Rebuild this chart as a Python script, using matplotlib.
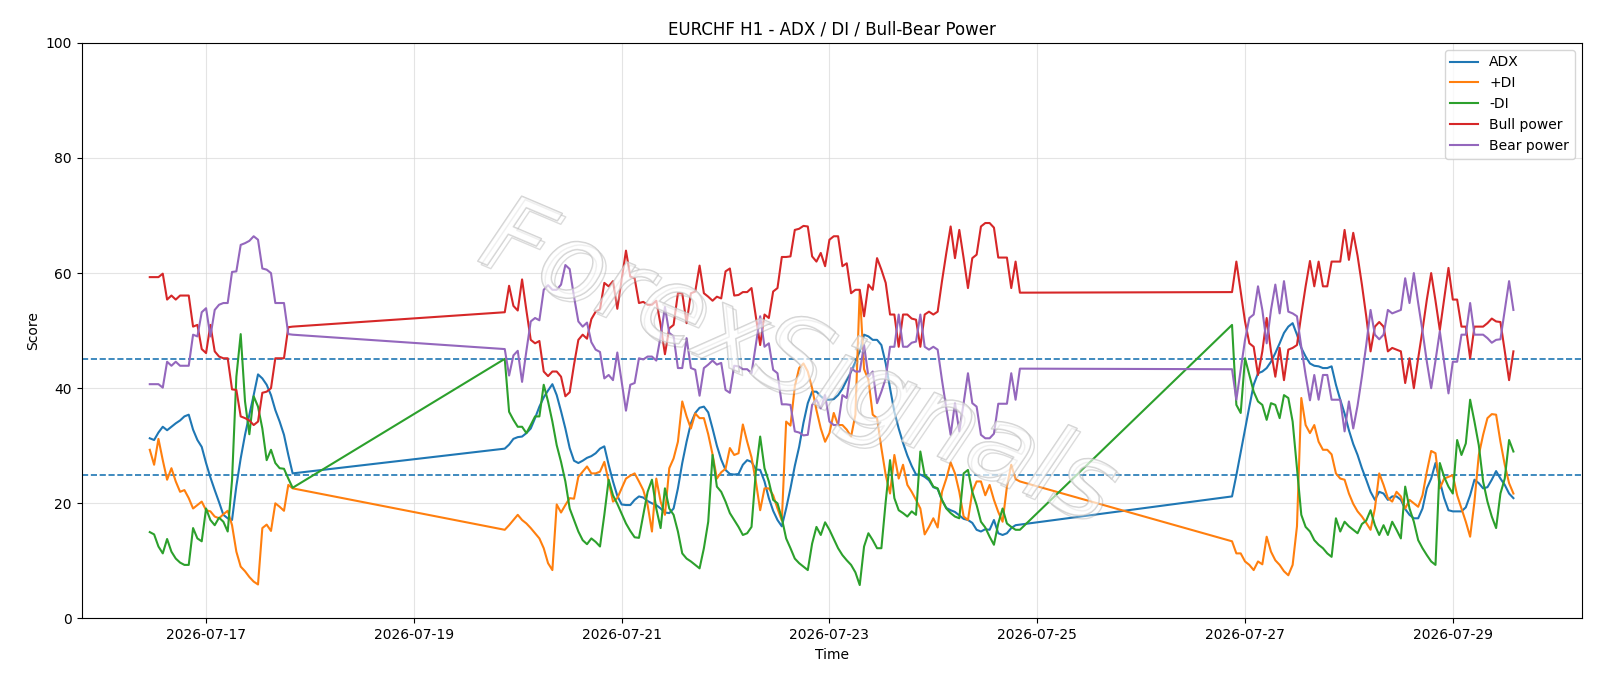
import matplotlib
matplotlib.use("Agg")
import matplotlib.pyplot as plt
import matplotlib.dates as mdates
import matplotlib.patheffects as pe
import pandas as pd

# ---- time axis: three hourly trading segments (gaps are weekends) ----
segment_starts = ["2026-07-16 11:00", "2026-07-19 21:00", "2026-07-26 21:00"]
segment_lengths = [34, 120, 66]

# ---- series values (segment 1 | segment 2 | segment 3) ----
adx = [
    31.3, 31.0, 32.3, 33.3, 32.7, 33.3, 33.9, 34.4, 35.1, 35.4, 32.8, 31.0, 29.8, 27.0, 24.5, 22.3, 20.2,
    18.0, 17.4, 17.1, 23.0, 27.8, 31.9, 35.4, 38.8, 42.4, 41.7, 40.6, 38.8, 36.2, 34.2, 31.9, 28.4, 25.2,
    # segment 2
    29.5, 30.2, 31.2, 31.5, 31.6, 32.2, 33.0, 34.8, 36.8, 38.4,
    39.6, 40.7, 38.8, 36.0, 33.0, 29.6, 27.4, 27.0, 27.4, 27.9,
    28.2, 28.7, 29.5, 29.9, 26.7, 23.8, 21.3, 19.8, 19.7, 19.7,
    20.6, 21.2, 21.0, 20.4, 20.0, 19.7, 19.1, 18.4, 18.3, 19.1,
    22.6, 27.0, 30.7, 33.9, 35.7, 36.6, 36.8, 35.8, 33.0, 30.0,
    27.6, 25.8, 25.1, 25.0, 25.1, 26.7, 27.5, 27.2, 25.9, 25.8,
    23.8, 20.9, 18.7, 17.1, 16.0, 19.1, 22.6, 26.5, 29.8, 34.0,
    37.4, 39.4, 39.4, 38.6, 38.0, 38.0, 38.1, 38.8, 39.9, 41.4,
    42.9, 44.6, 46.4, 49.3, 49.0, 48.4, 48.4, 47.5, 44.3, 40.0,
    35.9, 33.0, 30.5, 28.3, 26.5, 25.0, 25.0, 24.6, 24.0, 22.8,
    22.5, 20.5, 19.2, 18.8, 18.5, 17.9, 17.3, 17.1, 16.6, 15.4,
    15.1, 15.5, 15.4, 17.1, 14.8, 14.5, 14.8, 15.7, 16.2, 16.3,
    # segment 3
    21.2, 24.9, 28.9, 32.8, 36.8, 40.6, 42.6, 42.9, 43.5, 44.6,
    46.1, 47.8, 49.6, 50.7, 51.3, 49.3, 47.0, 45.5, 44.3, 43.9,
    43.8, 43.5, 43.5, 43.8, 40.6, 38.0, 35.6, 32.7, 30.3, 28.4,
    26.1, 24.1, 22.0, 20.6, 22.0, 21.7, 20.6, 21.2, 21.2, 20.6,
    19.0, 18.0, 17.4, 17.4, 19.1, 22.6, 24.3, 27.0, 23.8, 20.9,
    18.8, 18.6, 18.6, 18.6, 19.3, 21.4, 24.1, 23.5, 22.6, 22.8,
    24.1, 25.6, 24.3, 23.2, 21.7, 20.9,
]

plus_di = [
    29.3, 26.7, 31.2, 27.5, 24.1, 26.1, 23.8, 22.0, 22.3, 20.9, 19.1, 19.7, 20.3, 18.8, 18.6, 17.7, 17.4,
    18.1, 18.7, 16.2, 11.6, 9.0, 8.2, 7.2, 6.4, 5.9, 15.7, 16.3, 15.2, 20.0, 19.4, 18.7, 23.2, 22.6,
    # segment 2
    15.4, 16.2, 17.1, 18.0, 17.1, 16.5, 15.7, 14.8, 13.9, 12.2,
    9.6, 8.4, 19.8, 18.4, 19.7, 20.9, 20.8, 24.6, 25.5, 26.4,
    25.2, 25.2, 25.5, 27.2, 23.8, 20.3, 20.9, 22.6, 24.3, 24.8,
    25.2, 23.8, 22.3, 19.7, 15.1, 24.3, 20.3, 18.0, 26.1, 27.8,
    30.7, 37.7, 35.1, 33.0, 35.6, 34.8, 34.8, 32.0, 28.5, 24.3,
    25.4, 26.0, 29.6, 28.4, 28.7, 33.7, 30.7, 28.0, 23.8, 18.8,
    22.6, 22.6, 21.4, 19.1, 17.0, 34.2, 33.5, 40.3, 43.5, 44.3,
    42.9, 40.0, 36.2, 33.0, 30.7, 32.2, 35.7, 33.6, 33.6, 32.8,
    31.6, 35.4, 57.0, 43.3, 41.5, 35.4, 34.8, 29.6, 24.9, 21.7,
    28.4, 24.3, 26.7, 23.2, 22.0, 20.6, 19.1, 14.6, 15.9, 17.4,
    15.8, 22.0, 24.3, 27.1, 25.2, 22.0, 17.7, 17.1, 22.0, 23.8,
    23.8, 21.4, 23.2, 20.6, 18.5, 16.8, 22.9, 26.7, 24.2, 23.8,
    # segment 3
    13.4, 11.3, 11.3, 9.9, 9.3, 8.4, 9.9, 9.4, 14.2, 11.6,
    10.1, 9.3, 8.2, 7.5, 9.3, 16.0, 38.3, 33.6, 32.2, 33.6,
    30.7, 29.3, 29.3, 28.5, 25.2, 24.3, 24.1, 21.7, 19.9, 18.6,
    17.7, 16.6, 15.4, 19.1, 25.2, 23.2, 20.9, 20.3, 22.0, 21.2,
    19.1, 20.6, 20.0, 19.4, 21.4, 25.5, 29.1, 28.7, 22.6, 24.3,
    24.6, 24.9, 21.4, 19.1, 16.8, 14.2, 20.3, 28.4, 31.9, 34.8,
    35.5, 35.4, 30.7, 26.7, 23.5, 21.7,
]

minus_di = [
    15.0, 14.6, 12.5, 11.3, 13.8, 11.6, 10.4, 9.7, 9.3, 9.3, 15.7, 13.9, 13.4, 19.1, 17.1, 16.2, 17.5,
    16.8, 15.1, 24.0, 42.0, 49.4, 37.7, 32.0, 38.6, 36.8, 33.0, 27.5, 29.3, 27.0, 26.1, 26.0, 24.3, 22.7,
    # segment 2
    45.1, 35.9, 34.5, 33.3, 33.3, 32.2, 33.6, 35.1, 35.1, 40.6,
    37.7, 34.2, 30.1, 27.2, 23.8, 19.1, 17.1, 15.1, 13.6, 12.9,
    13.9, 13.3, 12.5, 18.0, 24.1, 21.4, 19.9, 18.2, 16.5, 15.2,
    14.1, 14.0, 18.0, 22.0, 24.1, 19.1, 15.7, 22.6, 19.1, 18.0,
    15.1, 11.3, 10.4, 9.9, 9.3, 8.7, 12.2, 16.8, 28.4, 22.9,
    22.0, 20.3, 18.3, 17.1, 15.9, 14.5, 14.8, 15.9, 25.5, 31.6,
    26.1, 23.8, 20.6, 20.0, 17.4, 13.9, 12.2, 10.4, 9.6, 9.0,
    8.4, 13.0, 15.9, 14.5, 16.7, 15.4, 13.8, 12.2, 11.0, 10.1,
    9.3, 8.0, 5.8, 12.5, 14.8, 13.6, 12.2, 12.2, 20.3, 27.5,
    20.9, 18.8, 18.3, 17.7, 18.6, 18.0, 29.0, 24.9, 24.3, 22.9,
    22.6, 20.6, 19.1, 18.3, 17.7, 17.4, 25.2, 25.8, 22.0, 19.7,
    16.8, 15.8, 14.2, 12.8, 16.5, 19.1, 16.5, 15.9, 15.4, 15.4,
    # segment 3
    51.0, 37.1, 35.7, 45.2, 42.3, 39.4, 37.7, 37.1, 34.5, 37.4,
    37.1, 34.8, 38.8, 38.3, 34.2, 26.0, 18.0, 15.9, 15.1, 13.6,
    12.8, 12.2, 11.3, 10.7, 17.4, 15.1, 16.8, 16.0, 15.4, 14.8,
    16.4, 17.0, 18.8, 16.2, 14.5, 16.2, 14.5, 16.8, 15.4, 13.9,
    22.9, 19.1, 16.8, 13.6, 12.2, 11.0, 9.9, 9.3, 27.0, 24.6,
    22.9, 21.7, 31.0, 28.4, 30.4, 38.0, 34.2, 30.1, 23.8, 20.3,
    17.7, 15.7, 21.7, 24.3, 31.0, 29.0,
]

bull_power = [
    59.3, 59.3, 59.3, 59.9, 55.4, 56.1, 55.4, 56.1, 56.1, 56.1, 50.7, 51.0, 46.8, 46.1, 51.0, 46.4, 45.5,
    45.2, 45.2, 39.8, 39.7, 35.1, 34.8, 34.4, 33.6, 34.2, 39.2, 39.4, 40.0, 45.2, 45.2, 45.2, 50.6, 50.7,
    # segment 2
    53.2, 57.8, 54.3, 53.5, 58.9, 53.5, 48.4, 47.8, 48.2, 42.9,
    42.1, 42.9, 42.9, 42.0, 38.6, 39.3, 44.1, 48.4, 49.3, 48.6,
    52.0, 53.3, 53.7, 58.3, 57.7, 58.6, 53.8, 58.8, 63.9, 59.4,
    59.1, 54.8, 55.0, 54.5, 54.5, 55.2, 51.0, 45.9, 50.4, 51.0,
    56.5, 56.5, 51.3, 56.5, 56.8, 61.3, 56.5, 55.9, 55.2, 55.9,
    55.6, 60.3, 60.8, 56.1, 56.2, 56.7, 56.7, 57.4, 52.5, 47.5,
    52.8, 52.2, 56.8, 57.4, 62.8, 62.8, 62.9, 67.5, 67.7, 68.2,
    68.1, 62.9, 62.0, 63.5, 61.2, 65.8, 66.4, 66.4, 61.2, 61.7,
    56.5, 57.1, 57.1, 52.5, 58.0, 57.1, 62.6, 60.6, 58.3, 52.8,
    52.8, 47.2, 52.8, 52.8, 52.1, 51.9, 47.2, 52.8, 53.3, 52.8,
    53.3, 58.6, 63.5, 68.1, 62.6, 67.5, 62.6, 57.4, 62.6, 63.2,
    68.1, 68.7, 68.7, 67.9, 62.7, 62.7, 62.7, 57.4, 62.0, 56.6,
    # segment 3
    56.7, 62.0, 56.8, 51.6, 47.8, 47.2, 42.3, 46.4, 52.2, 46.4,
    42.0, 47.0, 41.4, 46.7, 47.0, 47.5, 52.8, 57.7, 62.1, 57.7,
    62.0, 57.7, 57.7, 62.0, 62.0, 62.0, 67.5, 62.3, 67.0, 63.0,
    58.0, 52.5, 46.4, 50.7, 51.5, 50.7, 46.4, 47.0, 46.7, 46.4,
    40.9, 45.2, 40.0, 45.2, 50.1, 55.4, 60.0, 55.2, 50.1, 55.5,
    60.9, 55.4, 55.4, 50.7, 50.7, 45.2, 50.7, 50.7, 50.7, 51.3,
    52.1, 51.6, 51.5, 46.4, 41.4, 46.4,
]

bear_power = [
    40.7, 40.7, 40.7, 40.1, 44.6, 43.9, 44.6, 43.9, 43.9, 43.9, 49.3, 49.0, 53.2, 53.9, 49.0, 53.6, 54.5,
    54.8, 54.8, 60.2, 60.3, 64.9, 65.2, 65.6, 66.4, 65.8, 60.8, 60.6, 60.0, 54.8, 54.8, 54.8, 49.4, 49.3,
    # segment 2
    46.8, 42.2, 45.7, 46.5, 41.1, 46.5, 51.6, 52.2, 51.8, 57.1,
    57.9, 57.1, 57.1, 58.0, 61.4, 60.7, 55.9, 51.6, 50.7, 51.4,
    48.0, 46.7, 46.3, 41.7, 42.3, 41.4, 46.2, 41.2, 36.1, 40.6,
    40.9, 45.2, 45.0, 45.5, 45.5, 44.8, 49.0, 54.1, 49.6, 49.0,
    43.5, 43.5, 48.7, 43.5, 43.2, 38.7, 43.5, 44.1, 44.8, 44.1,
    44.4, 39.7, 39.2, 43.9, 43.8, 43.3, 43.3, 42.6, 47.5, 52.5,
    47.2, 47.8, 43.2, 42.6, 37.2, 37.2, 37.1, 32.5, 32.3, 31.8,
    31.9, 37.1, 38.0, 36.5, 38.8, 34.2, 33.6, 33.6, 38.8, 38.3,
    43.5, 42.9, 42.9, 47.5, 42.0, 42.9, 37.4, 39.4, 41.7, 47.2,
    47.2, 52.8, 47.2, 47.2, 47.9, 48.1, 52.8, 47.2, 46.7, 47.2,
    46.7, 41.4, 36.5, 31.9, 37.4, 32.5, 37.4, 42.6, 37.4, 36.8,
    31.9, 31.3, 31.3, 32.1, 37.3, 37.3, 37.3, 42.6, 38.0, 43.4,
    # segment 3
    43.3, 38.0, 43.2, 48.4, 52.2, 52.8, 57.7, 53.6, 47.8, 53.6,
    58.0, 53.0, 58.6, 53.3, 53.0, 52.5, 47.2, 42.3, 37.9, 42.3,
    38.0, 42.3, 42.3, 38.0, 38.0, 38.0, 32.5, 37.7, 33.0, 37.0,
    42.0, 47.5, 53.6, 49.3, 48.5, 49.3, 53.6, 53.0, 53.3, 53.6,
    59.1, 54.8, 60.0, 54.8, 49.9, 44.6, 40.0, 44.8, 49.9, 44.5,
    39.1, 44.6, 44.6, 49.3, 49.3, 54.8, 49.3, 49.3, 49.3, 48.7,
    47.9, 48.4, 48.5, 53.6, 58.6, 53.6,
]

levels = [25, 45]
tick_dates = ["2026-07-17", "2026-07-19", "2026-07-21", "2026-07-23",
              "2026-07-25", "2026-07-27", "2026-07-29"]
series = [("ADX", adx), ("+DI", plus_di), ("-DI", minus_di),
          ("Bull power", bull_power), ("Bear power", bear_power)]
watermark = "ForexSignals"

# ---- build time index ----
times = pd.DatetimeIndex([])
for start, n in zip(segment_starts, segment_lengths):
    times = times.append(pd.date_range(start, periods=n, freq="h"))

fig = plt.figure(figsize=(16, 6.86), dpi=100)
ax = fig.add_axes([0.051, 0.0985, 0.9375, 0.839])

colors = ["#1f77b4", "#ff7f0e", "#2ca02c", "#d62728", "#9467bd"]
for (label, vals), c in zip(series, colors):
    ax.plot(times, vals, color=c, linewidth=1.5, label=label, zorder=3)

for lv in levels:
    ax.axhline(lv, color="#1f77b4", linestyle="--", linewidth=1.2, zorder=2)

ax.set_ylim(0, 100)
ax.set_yticks([0, 20, 40, 60, 80, 100])
ax.set_xticks(pd.to_datetime(tick_dates))
ax.xaxis.set_major_formatter(mdates.DateFormatter("%Y-%m-%d"))
ax.grid(True, color="#d9d9d9", alpha=0.7, linewidth=0.8)
ax.set_axisbelow(True)

ax.set_title("EURCHF H1 - ADX / DI / Bull-Bear Power", fontsize=12)
ax.set_xlabel("Time")
ax.set_ylabel("Score")
ax.legend(loc="upper right")

# light, hollow, shadowed watermark
ax.text(0.477, 0.44, watermark, transform=ax.transAxes, fontsize=76,
        fontstyle="italic", color=(1, 1, 1, 0.25), rotation=-23,
        rotation_mode="anchor", ha="center", va="center", zorder=4,
        path_effects=[
            pe.withStroke(linewidth=1.0, foreground=(0.45, 0.45, 0.45, 0.25),
                          offset=(2.5, -2.5)),
            pe.withStroke(linewidth=1.1, foreground=(0.75, 0.75, 0.75, 0.7)),
        ])

fig.savefig("out.png", dpi=100)
